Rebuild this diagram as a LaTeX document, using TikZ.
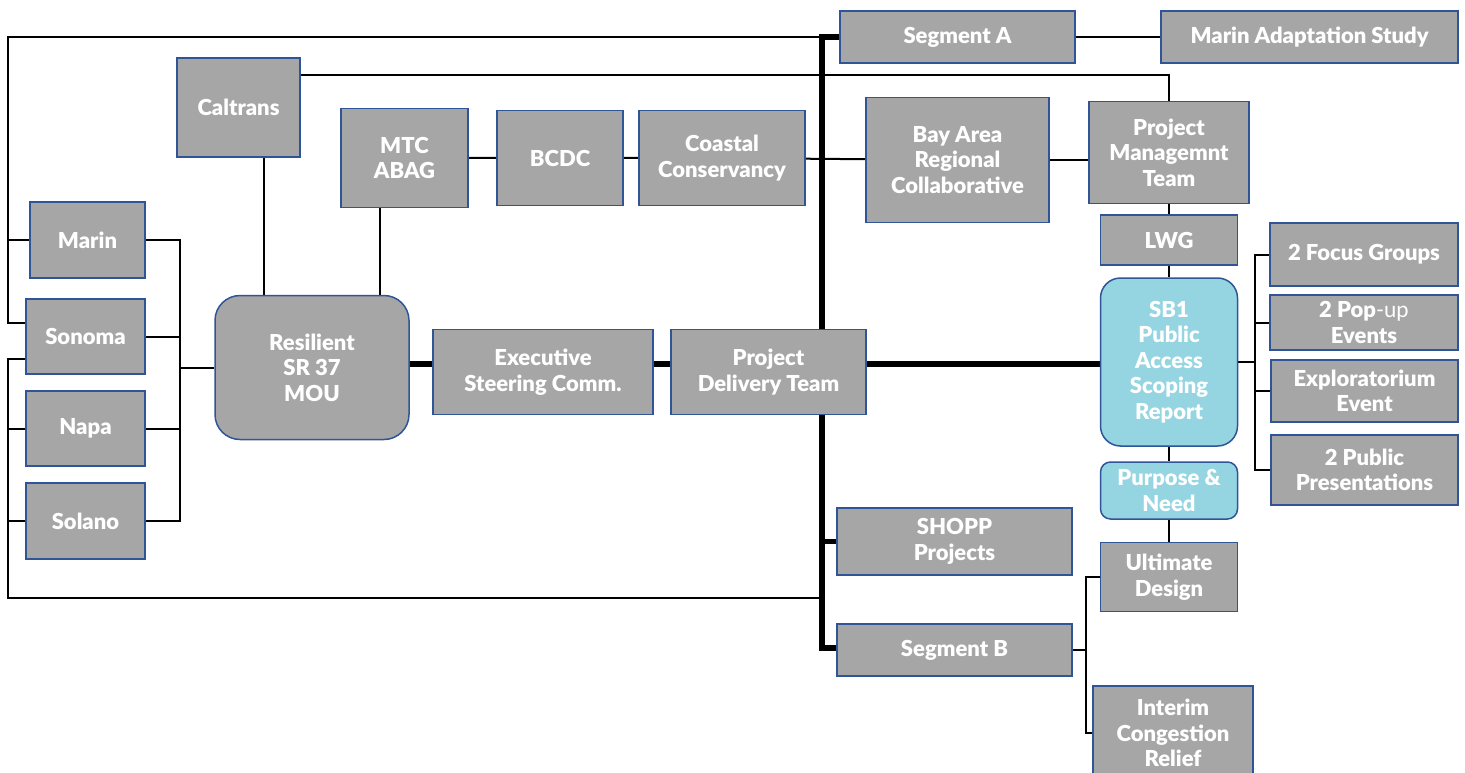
\documentclass[tikz,border=0pt]{standalone}
\usepackage{fontspec}
\setsansfont{Lato}[BoldFont={Lato Black}]
\usetikzlibrary{calc}
\pgfdeclarelayer{background}
\pgfsetlayers{background,main}
\definecolor{boxgray}{HTML}{A6A6A6}
\definecolor{boxline}{HTML}{2F5597}
\definecolor{scopeblue}{HTML}{95D5E2}

\begin{document}
\begin{tikzpicture}[x=1pt, y=-1pt,
  org/.style={draw=boxline, line width=1.5pt, fill=boxgray, text=white, align=center, inner sep=2pt,
    font=\sffamily\bfseries\fontsize{22}{25.5}\selectfont},
  scoping/.style={org, fill=scopeblue, rounded corners=#1},
  link/.style={line width=2pt},
  spine/.style={line width=5.5pt}]
\useasboundingbox (0,0) rectangle (1465,773);

\node[org, minimum width=235pt, minimum height=52pt] (segA) at (957.5,37) {Segment A};
\node[org, minimum width=297pt, minimum height=52pt] (mas) at (1309.5,37) {Marin Adaptation Study};
\node[org, minimum width=123pt, minimum height=99pt] (caltrans) at (238.5,107.5) {Caltrans};
\node[org, minimum width=127pt, minimum height=99pt] (mtc) at (404.5,158) {MTC\\ABAG};
\node[org, minimum width=126pt, minimum height=95pt] (bcdc) at (560,158) {BCDC};
\node[org, minimum width=166pt, minimum height=95pt] (coastal) at (722,158) {Coastal\\Conservancy};
\node[org, minimum width=183pt, minimum height=125pt] (barc) at (957.5,160) {Bay Area\\Regional\\Collaborative};
\node[org, minimum width=160pt, minimum height=102pt] (pmt) at (1169,152.5) {Project\\Managemnt\\Team};
\node[org, minimum width=137pt, minimum height=50pt] (lwg) at (1169,240) {LWG};
\node[scoping=20pt, minimum width=137pt, minimum height=168pt] (sb1) at (1169,362) {SB1\\Public\\Access\\Scoping\\Report};
\node[scoping=10pt, minimum width=137pt, minimum height=57pt] (purpose) at (1169,490.5) {Purpose \&\\Need};
\node[org, minimum width=137pt, minimum height=69pt] (ultimate) at (1169,577) {Ultimate\\Design};
\node[org, minimum width=160pt, minimum height=94pt] (interim) at (1173,733) {Interim\\Congestion\\Relief};

\node[org, minimum width=188pt, minimum height=63pt] (focus) at (1364,254.5) {2 Focus Groups};
\node[org, minimum width=188pt, minimum height=55pt] (popup) at (1364,322.5) {2 Pop{\mdseries-up}\\Events};
\node[org, minimum width=187pt, minimum height=62pt] (explo) at (1364.5,391) {Exploratorium\\Event};
\node[org, minimum width=187pt, minimum height=70pt] (pres) at (1364.5,470) {2 Public\\Presentations};

\node[org, minimum width=235pt, minimum height=67pt] (shopp) at (954.5,541.5) {SHOPP\\Projects};
\node[org, minimum width=235pt, minimum height=52pt] (segB) at (954.5,650) {Segment B};
\node[org, minimum width=195pt, minimum height=85pt] (pdt) at (768.5,372) {Project\\Delivery Team};
\node[org, minimum width=220pt, minimum height=85pt] (exec) at (543,372) {Executive\\Steering Comm.};
\node[org, rounded corners=25pt, minimum width=194pt, minimum height=144pt] (resilient) at (312,367.5) {Resilient\\SR 37\\MOU};

\node[org, minimum width=115pt, minimum height=76pt] (marin) at (87.5,240) {Marin};
\node[org, minimum width=119pt, minimum height=75pt] (sonoma) at (85.5,336.5) {Sonoma};
\node[org, minimum width=119pt, minimum height=75pt] (napa) at (85.5,428.5) {Napa};
\node[org, minimum width=119pt, minimum height=76pt] (solano) at (85.5,521) {Solano};

\coordinate (busTop) at (822,37);
\coordinate (busLow) at (822,598);
\coordinate (busBot) at (822,648);
\coordinate (westTop) at (9,37);
\coordinate (westBot) at (9,598);
\coordinate (ctyBus) at (180,0);
\coordinate (evBus) at (1255,0);
\coordinate (segBus) at (1086,0);
\coordinate (midline) at (0,364);

\begin{pgfonlayer}{background}
\draw[spine] (segA.west) -- (busTop) -- (busBot) -- (segB.west |- busBot);
\draw[spine] (shopp.west -| busTop) -- (shopp.west);
\draw[spine] (resilient.east |- midline) -- (exec.west |- midline);
\draw[spine] (exec.east |- midline) -- (pdt.west |- midline);
\draw[spine] (pdt.east |- midline) -- (sb1.west |- midline);

\draw[link] (busTop) -| ($(sonoma.west)+(-17,-14)$) -- ($(sonoma.west)+(0,-14)$);
\draw[link] (westTop |- marin.west) -- (marin.west);
\draw[link] (busLow) -| ($(sonoma.west)+(-17,22)$) -- ($(sonoma.west)+(0,22)$);
\draw[link] (westBot |- napa.west) -- (napa.west);
\draw[link] (westBot |- solano.west) -- (solano.west);

\draw[link] (marin.east) -- (marin.east -| ctyBus) -- (solano.east -| ctyBus) -- (solano.east);
\draw[link] (sonoma.east) -- (sonoma.east -| ctyBus);
\draw[link] (napa.east) -- (napa.east -| ctyBus);
\draw[link] (resilient.west) -- (resilient.west -| ctyBus);

\draw[link] ([xshift=25pt]caltrans.south) -- ([xshift=25pt]caltrans.south |- resilient.north);
\draw[link] ([xshift=-25pt]mtc.south) -- ([xshift=-25pt]mtc.south |- resilient.north);
\draw[link] ([yshift=32pt]caltrans.east) -| (pmt.north);

\draw[link] (mtc) -- (bcdc) -- (coastal) -- (barc);
\draw[link] (barc.east) -- (barc.east -| pmt.west);
\draw[link] (pmt) -- (lwg) -- (sb1) -- (purpose) -- (ultimate);
\draw[link] (segA.east) -- (mas.west);

\draw[link] (focus.west) -- (focus.west -| evBus) -- (pres.west -| evBus) -- (pres.west);
\draw[link] (popup.west) -- (popup.west -| evBus);
\draw[link] (explo.west) -- (explo.west -| evBus);
\draw[link] (sb1.east) -- (sb1.east -| evBus);

\draw[link] (ultimate.west) -- (ultimate.west -| segBus) -- (interim.west -| segBus) -- (interim.west);
\draw[link] (segB.east) -- (segB.east -| segBus);
\end{pgfonlayer}
\end{tikzpicture}
\end{document}
